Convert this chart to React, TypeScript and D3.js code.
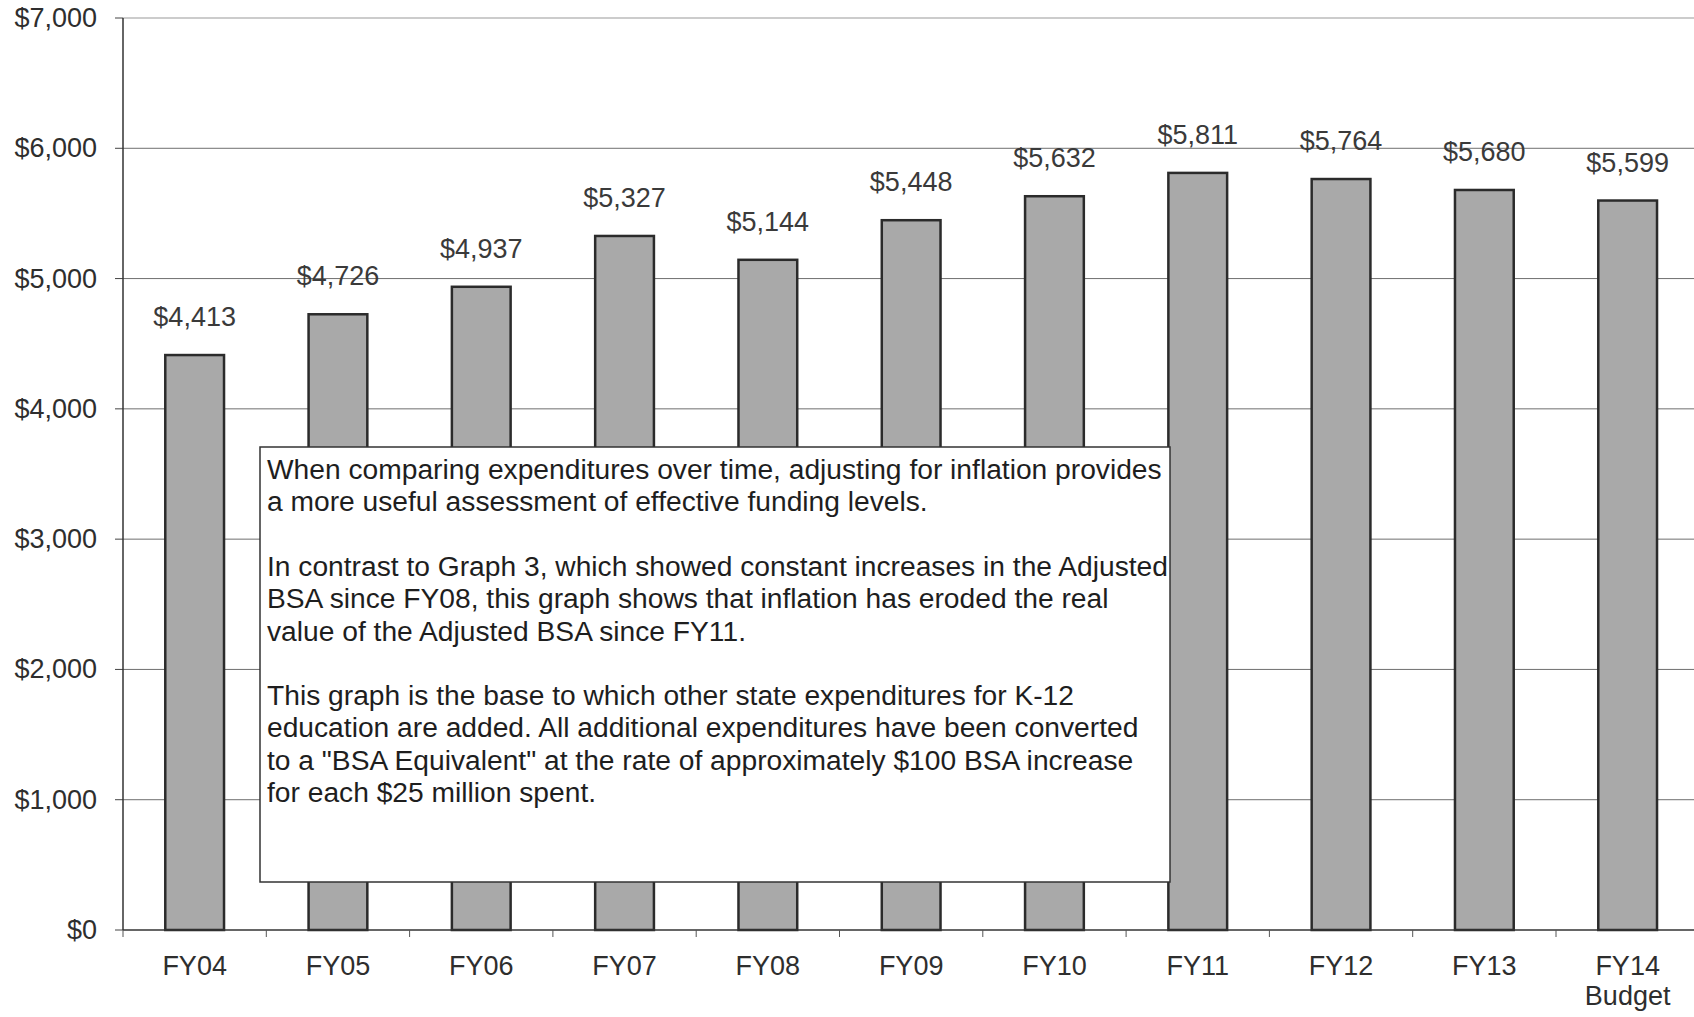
import React, { useEffect, useRef } from "react";
import * as d3 from "d3";

const categories = ["FY04", "FY05", "FY06", "FY07", "FY08", "FY09", "FY10", "FY11", "FY12", "FY13", "FY14\nBudget"];
const values = [4413, 4726, 4937, 5327, 5144, 5448, 5632, 5811, 5764, 5680, 5599];
const yTicks = [0, 1000, 2000, 3000, 4000, 5000, 6000, 7000];

const noteLines = [
  "When comparing expenditures over time, adjusting for inflation provides",
  "a more useful assessment of effective funding levels.",
  "",
  "In contrast to Graph 3, which showed constant increases in the Adjusted",
  "BSA since FY08, this graph shows that inflation has eroded the real",
  "value of the Adjusted BSA since FY11.",
  "",
  "This graph is the base to which other state expenditures for K-12",
  "education are added. All additional expenditures have been converted",
  "to a \"BSA Equivalent\" at the rate of approximately $100 BSA increase",
  "for each $25 million spent.",
];

const W = 1694;
const H = 1017;
const FONT = "'Liberation Sans', Arial, sans-serif";

const Chart = () => {
  const svgRef = useRef(null);

  useEffect(() => {
    const svg = d3.select(svgRef.current);
    svg.selectAll("*").remove();

    const left = 123;
    const step = 143.3;
    const x = d3
      .scaleBand()
      .domain(categories)
      .range([left, left + step * categories.length])
      .paddingInner(0.59)
      .paddingOuter(0.295);
    const y = d3.scaleLinear().domain([0, 7000]).range([930, 18]);
    const fmt = d3.format("$,");

    // gridlines
    svg
      .append("g")
      .selectAll("line")
      .data(yTicks.filter((d) => d > 0))
      .enter()
      .append("line")
      .attr("x1", left)
      .attr("x2", W)
      .attr("y1", (d) => y(d))
      .attr("y2", (d) => y(d))
      .attr("stroke", (d) => (d === 7000 ? "#999" : "#6f6f6f"))
      .attr("stroke-width", 1);

    // y ticks + labels
    const yg = svg.append("g");
    yTicks.forEach((t) => {
      yg.append("line")
        .attr("x1", left - 8)
        .attr("x2", left)
        .attr("y1", y(t))
        .attr("y2", y(t))
        .attr("stroke", "#444");
      yg.append("text")
        .attr("x", 97)
        .attr("y", y(t) + 9)
        .attr("text-anchor", "end")
        .attr("font-family", FONT)
        .attr("font-size", 27)
        .attr("fill", "#2e2e2e")
        .text(fmt(t));
    });

    // bars
    svg
      .selectAll(".bar")
      .data(values)
      .enter()
      .append("rect")
      .attr("class", "bar")
      .attr("x", (d, i) => x(categories[i]))
      .attr("y", (d) => y(d))
      .attr("width", x.bandwidth())
      .attr("height", (d) => y(0) - y(d))
      .attr("fill", "#a9a9a9")
      .attr("stroke", "#2b2b2b")
      .attr("stroke-width", 2.5);

    // value labels
    svg
      .selectAll(".val")
      .data(values)
      .enter()
      .append("text")
      .attr("class", "val")
      .attr("x", (d, i) => x(categories[i]) + x.bandwidth() / 2)
      .attr("y", (d) => y(d) - 29)
      .attr("text-anchor", "middle")
      .attr("font-family", FONT)
      .attr("font-size", 27)
      .attr("fill", "#3a3a3a")
      .text((d) => fmt(d));

    // axes lines
    svg.append("line")
      .attr("x1", left).attr("x2", left)
      .attr("y1", y(7000)).attr("y2", y(0))
      .attr("stroke", "#333").attr("stroke-width", 1.5);
    svg.append("line")
      .attr("x1", left).attr("x2", W)
      .attr("y1", y(0)).attr("y2", y(0))
      .attr("stroke", "#333").attr("stroke-width", 1.5);

    // x ticks
    d3.range(categories.length + 1).forEach((i) => {
      svg.append("line")
        .attr("x1", left + i * step).attr("x2", left + i * step)
        .attr("y1", y(0)).attr("y2", y(0) + 7)
        .attr("stroke", "#555");
    });

    // x labels
    categories.forEach((c) => {
      const t = svg.append("text")
        .attr("text-anchor", "middle")
        .attr("font-family", FONT)
        .attr("font-size", 27)
        .attr("fill", "#2e2e2e");
      c.split("\n").forEach((part, j) => {
        t.append("tspan")
          .attr("x", x(c) + x.bandwidth() / 2)
          .attr("y", 975 + j * 30)
          .text(part);
      });
    });

    // note box
    svg.append("rect")
      .attr("x", 260).attr("y", 447)
      .attr("width", 910).attr("height", 435)
      .attr("fill", "#fff")
      .attr("stroke", "#333").attr("stroke-width", 1.5);
    svg.append("g")
      .selectAll("text")
      .data(noteLines)
      .enter()
      .append("text")
      .attr("x", 267)
      .attr("y", (d, i) => 479 + i * 32.3)
      .attr("font-family", FONT)
      .attr("font-size", 28.2)
      .attr("fill", "#1e1e1e")
      .text((d) => d);
  }, []);

  return <svg ref={svgRef} width={W} height={H} style={{ position: "absolute", left: 0, top: 0, background: "#fff" }}></svg>;
};

const App = () => {
  return (
    <div className="App">
      <Chart />
    </div>
  );
};

export default App;
